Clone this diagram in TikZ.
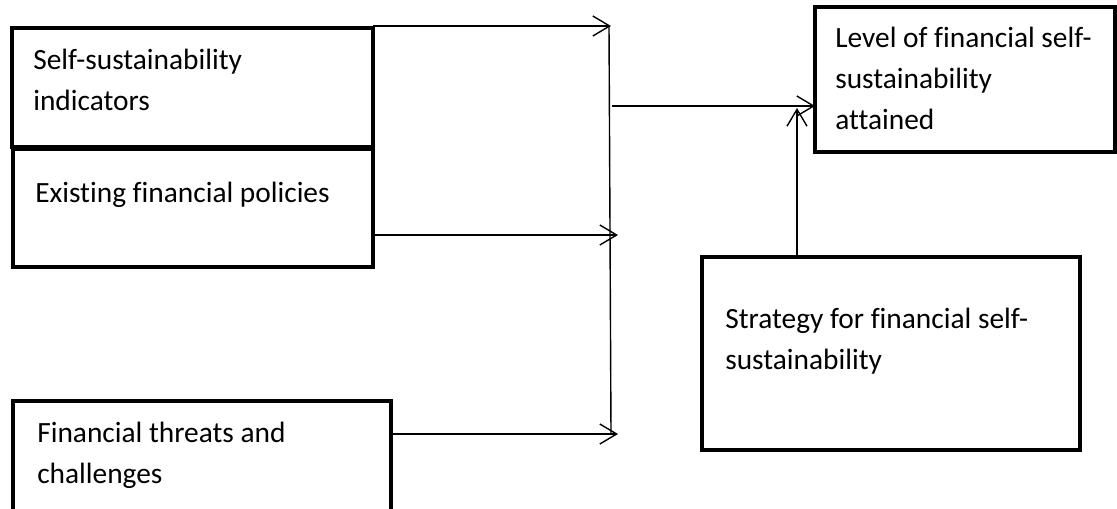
\documentclass[tikz,border=0pt]{standalone}
\usepackage{fontspec}
\setmainfont{Carlito}[Ligatures=NoCommon]
\usepackage{tikz}
\usetikzlibrary{
  arrows.meta,
  positioning,
  calc
}
\tikzset{
  fsbox/.style={
    draw, line width=0.1cm, outer sep=0pt, inner sep=0pt,
    anchor=north west
  },
  fstext/.style={
    anchor=north west, inner sep=0pt, align=left,
    font=\fontsize{20.9}{29}\selectfont
  },
  flow/.style={-{Straight Barb[length=0.42cm, width=0.5cm]}, line width=0.035cm},
  netline/.style={line width=0.035cm}
}

\begin{document}
\begin{tikzpicture}[x=0.025cm, y=-0.025cm]
  \clip (0,0) rectangle (1117,508);
  % boxes
  \node[fsbox, minimum width=9.03cm, minimum height=2.98cm] (ind) at (12,28) {};
  \node[fsbox, minimum width=9.0cm, minimum height=2.95cm] (pol) at (13,149) {};
  \node[fsbox, minimum width=9.45cm, minimum height=2.88cm] (thr) at (13,401) {};
  \node[fsbox, minimum width=7.5cm, minimum height=3.63cm] (lvl) at (815,7) {};
  \node[fsbox, minimum width=9.45cm, minimum height=4.83cm] (strat) at (702,257) {};
  % texts
  \node[fstext] (indtxt) at ($(ind.north west)+(21,21)$) {Self-sustainability\\indicators};
  \node[fstext] (poltxt) at ($(pol.north west)+(22,33)$) {Existing financial policies};
  \node[fstext] (thrtxt) at ($(thr.north west)+(24,21)$) {Financial threats and\\challenges};
  \node[fstext] (lvltxt) at ($(lvl.north west)+(20,20)$) {Level of financial self-\\sustainability\\attained};
  \node[fstext] (strattxt) at ($(strat.north west)+(23,51)$) {Strategy for financial self-\\sustainability};
  % junction
  \coordinate (j1) at (611,26);
  \coordinate (j2) at (618,235);
  \coordinate (j3) at (618,434);
  \coordinate (jout) at (612,106);
  \coordinate (up) at (797,108);
  \draw[netline] (609,26) -- (611,434);
  \draw[flow] (ind.north east |- j1) -- (j1);
  \draw[flow] (pol.east |- j2) -- (j2);
  \draw[flow] (thr.east |- j3) -- (j3);
  \draw[flow] (jout) -- (jout -| lvl.west);
  \draw[flow] (strat.north -| up) -- (up);
\end{tikzpicture}
\end{document}
